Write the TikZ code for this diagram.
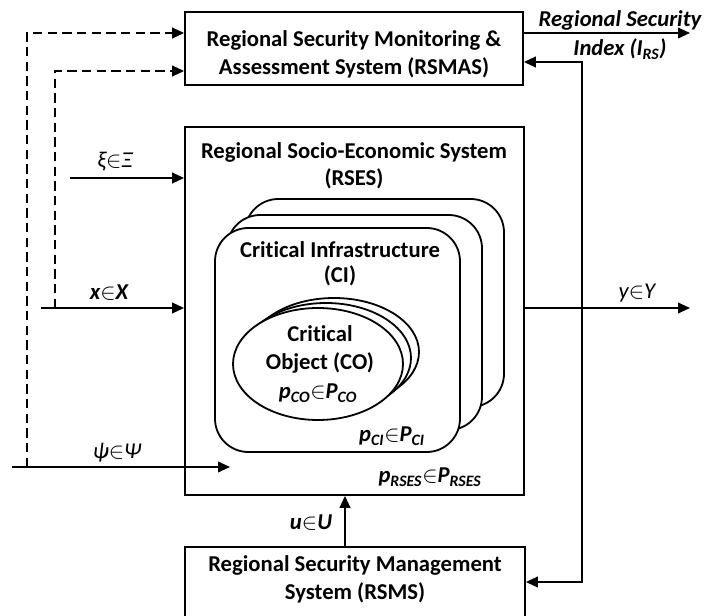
\documentclass[tikz,border=0pt]{standalone}
\usepackage{fontspec}
\setmainfont{Carlito}[Ligatures=NoCommon]
\usetikzlibrary{arrows.meta,fit}

\newcommand{\elt}{\ensuremath{\in}}

\begin{document}
\begin{tikzpicture}[x=0.75pt,y=-0.75pt,line width=1.35pt,
  >={Triangle[length=9pt,width=8pt]},
  box/.style={draw,rectangle,inner sep=0pt},
  layer/.style={draw,fill=white,rectangle,rounded corners=25pt,inner sep=0pt},
  oval/.style={draw,fill=white},
  title/.style={font=\bfseries\fontsize{17}{21}\selectfont,align=center,inner sep=0pt},
  lbl/.style={font=\bfseries\itshape\fontsize{17}{20}\selectfont,inner sep=0pt},
  glbl/.style={font=\itshape\fontsize{17}{20}\selectfont,inner sep=0pt},
  dashline/.style={dash pattern=on 7pt off 4pt},
]
\useasboundingbox (0,0) rectangle (710,616);
\clip (0,0) rectangle (710,616);

% main blocks
\node[box,fit={(185,12) (523,85)}] (mas) {};
\node[box,fit={(185,127) (524,495)}] (ses) {};
\node[box,fit={(185,547) (525,640)}] (sms) {};

\node[title] (masT) at (354,54) {Regional Security Monitoring \&\\Assessment System (RSMAS)};
\node[title,font=\bfseries\fontsize{17}{20.25}\selectfont] (sesT) at (354,166) {Regional Socio-Economic System\\(RSES)};
\node[title] (smsT) at (355,579) {Regional Security Management\\System (RSMS)};

% stacked critical infrastructures
\node[layer,fit={(245,199) (504,407)}] (ci3) {};
\node[layer,fit={(227,215) (482,430)}] (ci2) {};
\node[layer,fit={(215,228) (460,452)}] (ci1) {};
\node[title,font=\bfseries\fontsize{17}{19}\selectfont] (ciT) at (340,264) {Critical Infrastructure\\(CI)};

% stacked critical objects
\draw[oval] (334,352) ellipse [x radius=85,y radius=54];
\draw[oval] (326,358) ellipse [x radius=85,y radius=55];
\draw[oval] (318,364) ellipse [x radius=85,y radius=56];
\node[title] (coT) at (320,349) {Critical\\Object (CO)};

% parameter labels
\node[lbl] (pco) at (318,393) {p\textsubscript{CO}\elt P\textsubscript{CO}};
\node[lbl] (pci) at (392,436) {p\textsubscript{CI}\elt P\textsubscript{CI}};
\node[lbl] (pses) at (430,477) {p\textsubscript{RSES}\elt P\textsubscript{RSES}};

% anchor points for the connectors
\coordinate (yA) at (0,33);
\coordinate (yB) at (0,71);
\coordinate (yFb) at (0,62);
\coordinate (dA) at (27,467);
\coordinate (dB) at (55,308);
\coordinate (xiS) at (70,178);
\coordinate (xS) at (41,308);
\coordinate (psiS) at (12,467);
\coordinate (psiE) at (230,467);
\coordinate (yE) at (690,308);
\coordinate (idxE) at (690,33);
\coordinate (fbC) at (582,582);
\coordinate (uX) at (345,0);

% dashed information feeds into RSMAS
\draw[->,dashline] (dA) |- (mas.west |- yA);
\draw[->,dashline] (dB) |- (mas.west |- yB);

% inputs
\draw[->] (xiS) -- (ses.west |- xiS);
\draw[->] (xS) -- (ses.west |- xS);
\draw[->] (psiS) -- (psiE);
\draw[->] (ses.east |- xS) -- (yE);
\draw[->] (sms.north -| uX) -- (ses.south -| uX);

% security index output and feedback loop
\draw[->] (mas.east |- yA) -- (idxE);
\draw[<->] (mas.east |- yFb) -| (fbC) -- (sms.east |- fbC);

% signal labels
\node[glbl] (lxi) at (115,162) {ξ\elt Ξ};
\node[lbl] (lx) at (109,293) {x\elt X};
\node[glbl] (lpsi) at (117,453) {ψ\elt Ψ};
\node[glbl] (ly) at (637,293) {y\elt Y};
\node[lbl] (lu) at (311,523) {u\elt U};
\node[lbl,align=center,font=\bfseries\itshape\fontsize{17}{22}\selectfont] (lidx) at (620,35) {Regional Security\\Index (I\textsubscript{RS})};
\end{tikzpicture}
\end{document}
